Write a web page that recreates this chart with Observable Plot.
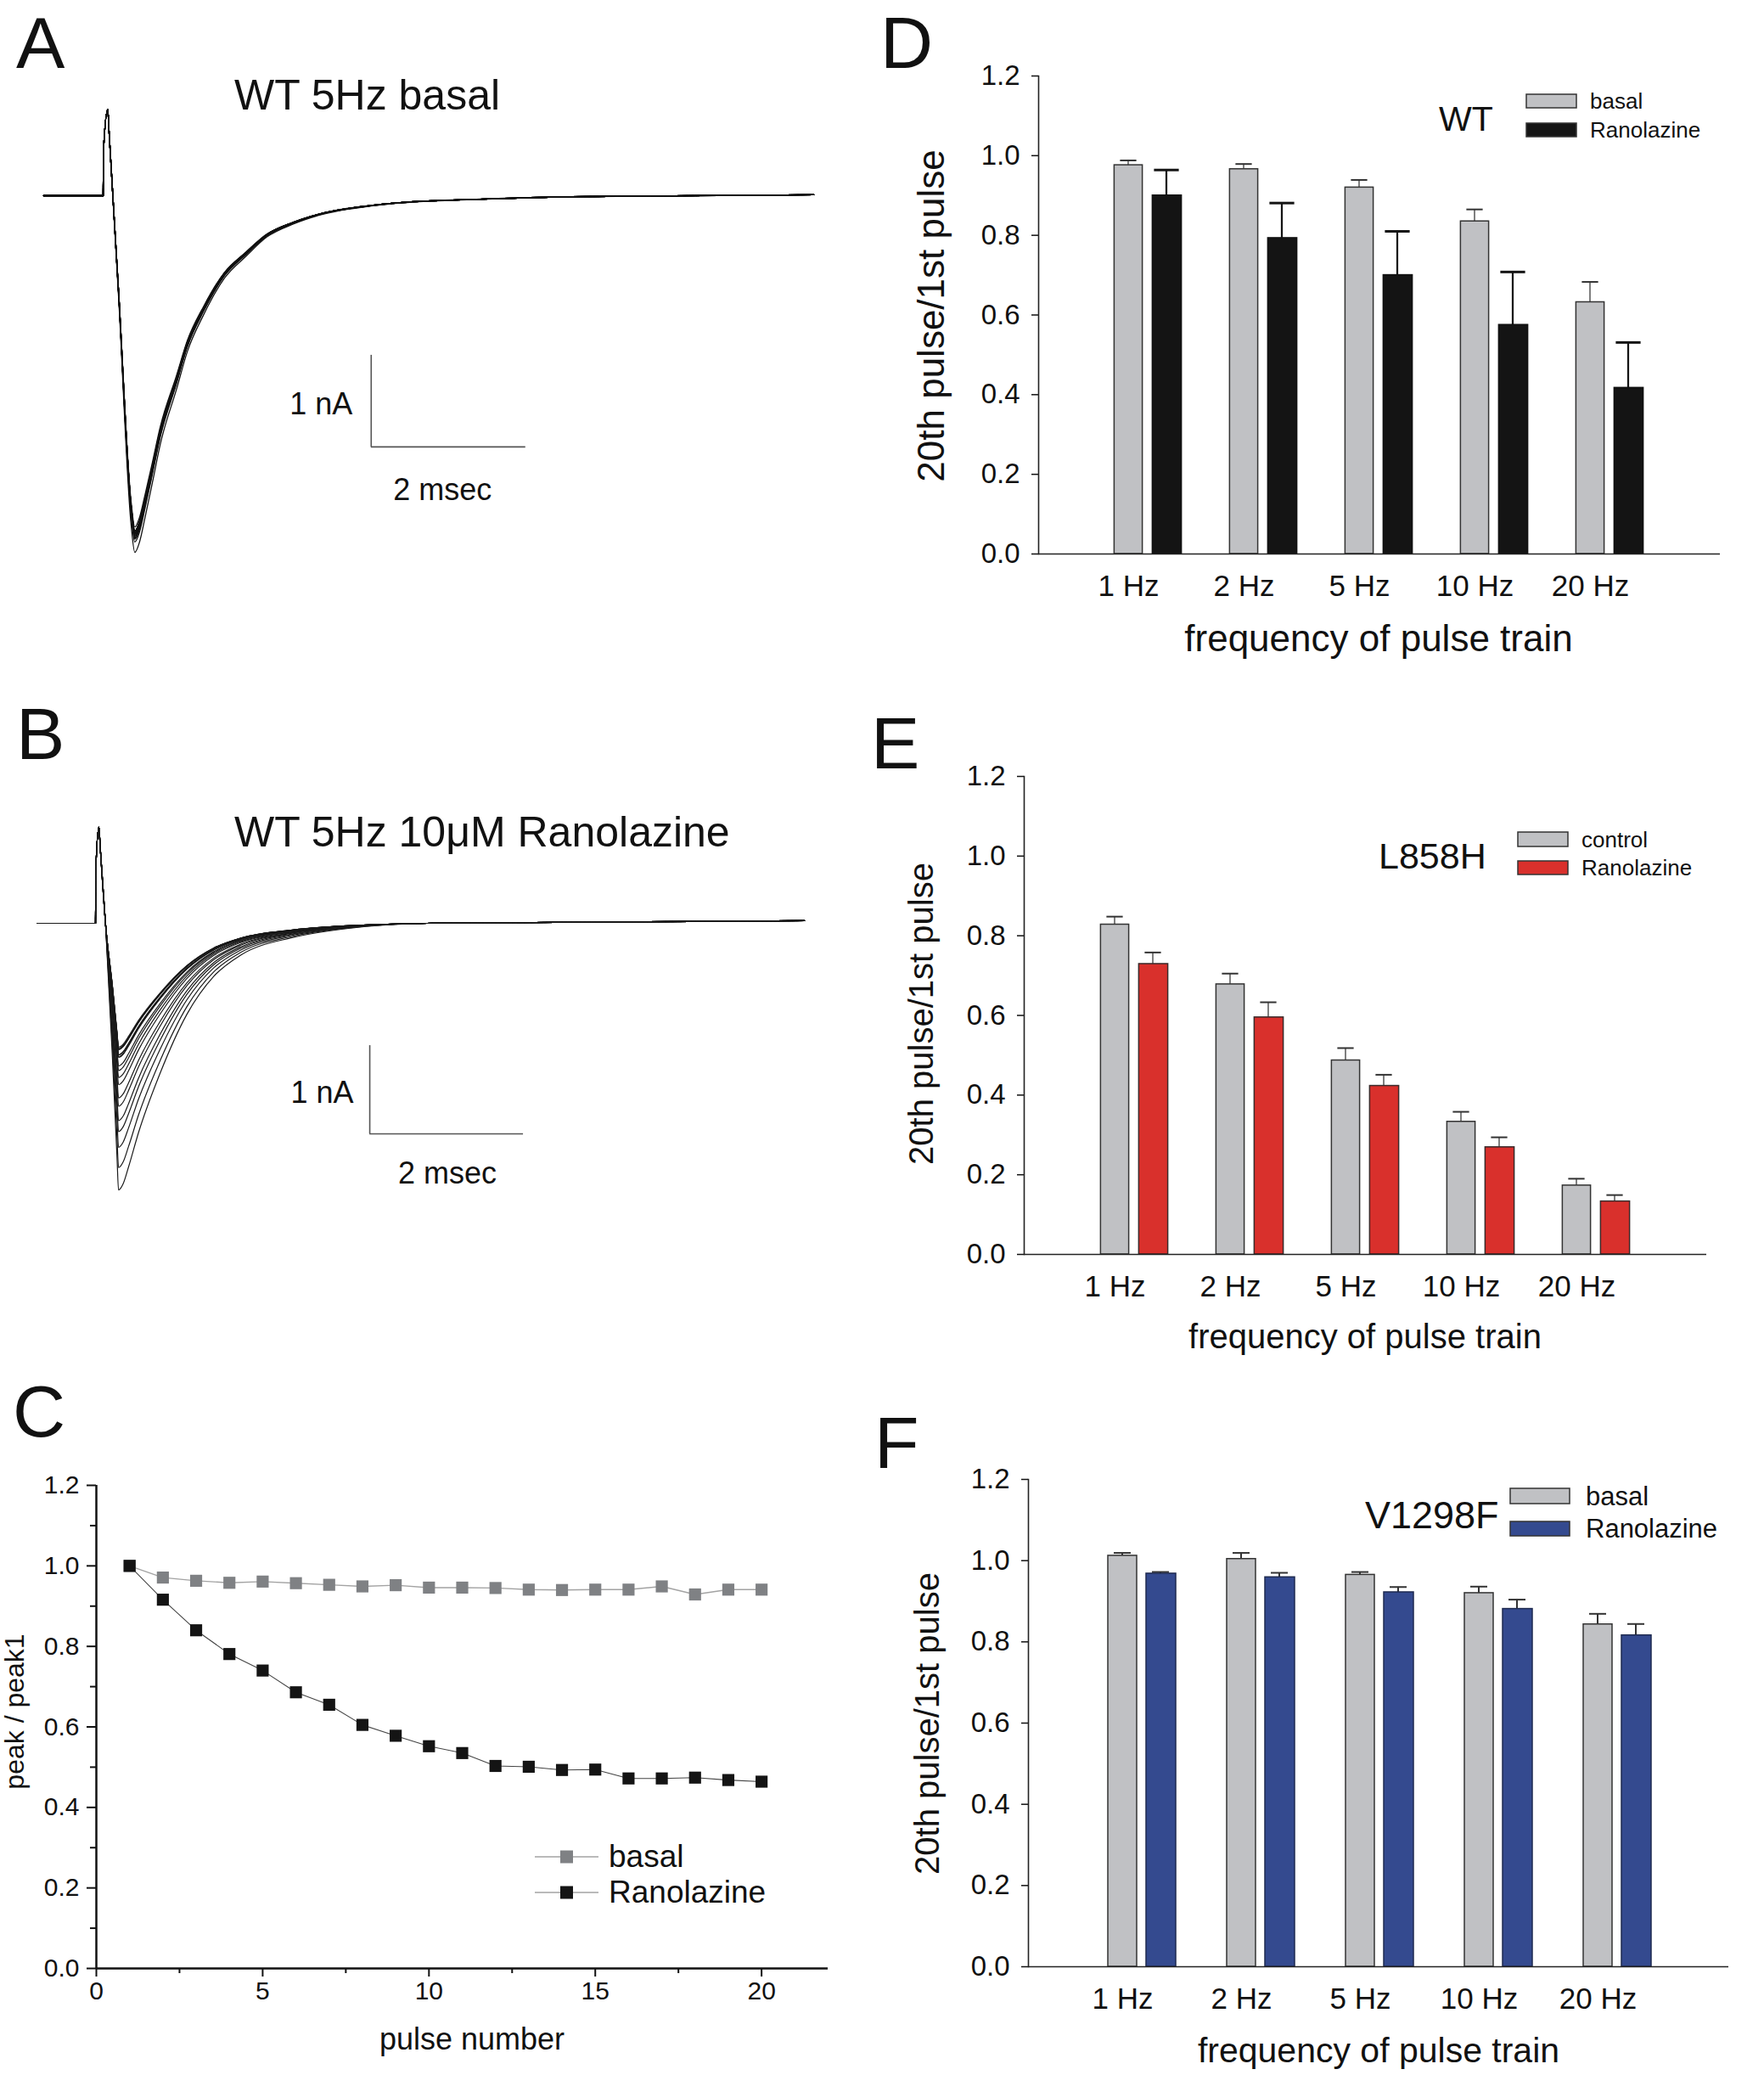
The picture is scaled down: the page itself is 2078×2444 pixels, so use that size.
<!DOCTYPE html>
<html><head><meta charset="utf-8">
<script src="https://cdn.jsdelivr.net/npm/d3@7"></script>
<script src="https://cdn.jsdelivr.net/npm/@observablehq/plot@0.6"></script>
<style>
body{margin:0;background:#fff;}
#fig{position:relative;width:2078px;height:2444px;background:#fff;overflow:hidden;}
#fig > svg{position:absolute;}
</style></head><body><div id="fig"></div>
<script>
const FONT = '"Liberation Sans", Arial, Helvetica, sans-serif';

// ---------- Panel C data (peak / peak1 vs pulse number) ----------
const pulses = [1,2,3,4,5,6,7,8,9,10,11,12,13,14,15,16,17,18,19,20];
const basalRatio = [1.000,0.971,0.963,0.958,0.961,0.957,0.953,0.949,0.952,0.946,0.946,0.945,0.941,0.940,0.941,0.941,0.949,0.929,0.941,0.941];
const ranoRatio  = [1.000,0.916,0.840,0.781,0.740,0.686,0.655,0.605,0.578,0.552,0.535,0.503,0.501,0.493,0.494,0.472,0.472,0.474,0.468,0.464];

// ---------- Panel A trace (first pulse, WT basal), time in ms, current in nA ----------
const traceA_t = [-0.77,0,0.005,0.06,0.075,0.20,0.363,0.41,0.47,0.54,0.64,0.74,0.95,1.09,1.30,1.57,1.85,2.12,2.46,2.81,3.50,3.85,4.88,6.26,9.20];
const traceA_I = [0,0,0.50,0.94,0.72,-1.11,-3.60,-3.89,-3.78,-3.52,-3.12,-2.71,-2.11,-1.70,-1.30,-0.90,-0.66,-0.45,-0.31,-0.21,-0.11,-0.08,-0.04,-0.01,0.01];
// ---------- Panel B trace (first pulse, WT + ranolazine) ----------
const traceB_t = [-0.76,0,0.004,0.045,0.06,0.13,0.22,0.28,0.30,0.36,0.43,0.56,0.84,1.19,1.54,1.89,2.57,3.27,4.32,6.00,9.23];
const traceB_I = [0,0,0.60,1.09,0.88,0,-1.52,-2.65,-3.02,-2.95,-2.76,-2.37,-1.70,-1.03,-0.60,-0.36,-0.16,-0.06,0,0.01,0.03];

// scale bars (1 nA, 2 msec)
const scaleBarA = [{t:3.47, I:-2.74, nA:1, ms:2}];
const scaleBarB = [{t:3.57, I:-2.385, nA:1, ms:2}];

// ---------- Panels D-F data ----------
const freqs = ["1 Hz","2 Hz","5 Hz","10 Hz","20 Hz"];
const wtBasal      = [0.976,0.966,0.920,0.835,0.632];
const wtBasalSem   = [0.012,0.013,0.019,0.030,0.051];
const wtRano       = [0.900,0.793,0.700,0.575,0.417];
const wtRanoSem    = [0.064,0.088,0.110,0.133,0.114];
const l858Control    = [0.828,0.678,0.487,0.333,0.173];
const l858ControlSem = [0.020,0.027,0.031,0.025,0.017];
const l858Rano       = [0.729,0.595,0.423,0.269,0.133];
const l858RanoSem    = [0.029,0.038,0.028,0.025,0.016];
const v1298Basal    = [1.012,1.004,0.965,0.920,0.843];
const v1298BasalSem = [0.007,0.015,0.007,0.016,0.026];
const v1298Rano     = [0.968,0.959,0.922,0.881,0.816];
const v1298RanoSem  = [0.004,0.011,0.013,0.023,0.028];

const fig = document.getElementById("fig");
function place(svg, left, top){ svg.style.left = left+"px"; svg.style.top = top+"px"; fig.appendChild(svg); }

// family of traces: first-pulse shape scaled by each pulse's peak ratio
function family(ts, Is, ratios){
  return ratios.flatMap((r,k)=> ts.map((t,j)=>({pulse:k+1, t, I: Is[j] < 0 ? Is[j]*r : Is[j]})));
}

function tracePanel(cfg){
  return Plot.plot({
    width:1000, height:cfg.height,
    x:{domain:[-1,9.5], range:cfg.xr, axis:null},
    y:{domain:[-4.5,1.5], range:cfg.yr, axis:null},
    style:{fontFamily:FONT, color:"#111", background:"transparent", overflow:"visible"},
    marks:[
      Plot.line(cfg.data, {x:"t", y:"I", z:"pulse", stroke:cfg.stroke, strokeWidth:cfg.sw, curve:"monotone-x"}),
      Plot.ruleX(cfg.bar, {x:"t", y1:"I", y2:d=>d.I+d.nA, stroke:"#555", strokeWidth:1.6}),
      Plot.ruleY(cfg.bar, {y:"I", x1:"t", x2:d=>d.t+d.ms, stroke:"#555", strokeWidth:1.6}),
      Plot.text(cfg.bar, {x:"t", y:d=>d.I+d.nA/2, text:d=>`${d.nA} nA`, textAnchor:"end", dx:cfg.nAdx, dy:4, fontSize:36, fill:"#111"}),
      Plot.text(cfg.bar, {x:d=>d.t+d.ms/2, y:"I", text:d=>`${d.ms} msec`, dx:cfg.msdx, dy:cfg.msdy, fontSize:36, fill:"#111"})
    ]
  });
}

place(tracePanel({height:760, xr:[30,985.5], yr:[716,68], data:family(traceA_t,traceA_I,basalRatio), stroke:"#111", sw:1.3, bar:scaleBarA, nAdx:-22, msdx:-7, msdy:51}), 0, 0);
place(tracePanel({height:800, xr:[21.5,971.75], yr:[755,131], data:family(traceB_t,traceB_I,ranoRatio), stroke:"#1a1a1a", sw:1.2, bar:scaleBarB, nAdx:-19, msdx:1, msdy:47}), 0, 800);

// ---------- Panel C ----------
const cBasal = pulses.map((p,i)=>({p, v:basalRatio[i]}));
const cRano  = pulses.map((p,i)=>({p, v:ranoRatio[i]}));
const yTicks = [0,0.2,0.4,0.6,0.8,1.0,1.2];
const plotC = Plot.plot({
  width:1000, height:744, marginLeft:113, marginRight:25, marginTop:49, marginBottom:126,
  x:{domain:[0,22]}, y:{domain:[0,1.2]},
  style:{fontFamily:FONT, color:"#111", background:"transparent", overflow:"visible"},
  marks:[
    Plot.axisY({ticks:yTicks, tickSize:11, tickPadding:9, tickFormat:d3.format(".1f"), fontSize:30, label:null, strokeWidth:2}),
    Plot.axisY({ticks:[0.1,0.3,0.5,0.7,0.9,1.1], tickSize:7, tickFormat:()=>"", label:null, strokeWidth:2}),
    Plot.axisX({ticks:[0,5,10,15,20], tickSize:10, tickPadding:5, fontSize:30, label:null, strokeWidth:2}),
    Plot.axisX({ticks:[2.5,7.5,12.5,17.5], tickSize:6, tickFormat:()=>"", label:null, strokeWidth:2}),
    Plot.ruleX([0], {stroke:"#111", strokeWidth:2.5}),
    Plot.ruleY([0], {stroke:"#111", strokeWidth:2.5}),
    Plot.line(cBasal, {x:"p", y:"v", stroke:"#a3a3a3", strokeWidth:1.4}),
    Plot.line(cRano, {x:"p", y:"v", stroke:"#444", strokeWidth:1.1}),
    Plot.dot(cBasal, {x:"p", y:"v", symbol:"square", r:8, fill:"#7f8184"}),
    Plot.dot(cRano, {x:"p", y:"v", symbol:"square", r:8, fill:"#141414"})
  ]
});
place(plotC, 0, 1700);

// ---------- Bar panels ----------
function barPanel(cfg){
  const rows = freqs.map((f,i)=>({freq:f, a:cfg.a[i], aSem:cfg.aSem[i], b:cfg.b[i], bSem:cfg.bSem[i]}));
  const h = (cfg.xr[1]-cfg.xr[0])/freqs.length/2;
  return Plot.plot({
    width:1048, height:cfg.height, marginLeft:cfg.mL, marginRight:cfg.mR, marginTop:cfg.mT, marginBottom:cfg.mB,
    x:{type:"band", domain:freqs, range:cfg.xr, padding:0},
    y:{domain:[0,1.2]},
    style:{fontFamily:FONT, color:"#111", background:"transparent", overflow:"visible"},
    marks:[
      Plot.axisY({ticks:yTicks, tickSize:8, tickPadding:14, tickFormat:d3.format(".1f"), fontSize:33, label:null, strokeWidth:1.5}),
      Plot.axisX({tickSize:0, tickPadding:25, fontSize:35, dx:-23, label:null}),
      // error stems
      Plot.barY(rows, {x:"freq", y1:"a", y2:d=>d.a+d.aSem, fill:"#333", insetLeft:h-24, insetRight:h+22}),
      Plot.barY(rows, {x:"freq", y1:"b", y2:d=>d.b+d.bSem, fill:cfg.errB, insetLeft:h+22-cfg.stemB/2, insetRight:h-22-cfg.stemB/2}),
      // caps
      Plot.tickY(rows, {x:"freq", y:d=>d.a+d.aSem, stroke:"#333", strokeWidth:2, insetLeft:h-33, insetRight:h+13}),
      Plot.tickY(rows, {x:"freq", y:d=>d.b+d.bSem, stroke:cfg.errB, strokeWidth:cfg.capW, insetLeft:h+22-cfg.capB/2, insetRight:h-22-cfg.capB/2}),
      // bars
      Plot.barY(rows, {x:"freq", y:"a", fill:"#c0c1c4", stroke:"#333", strokeWidth:1.5, insetLeft:h-40, insetRight:h+6}),
      Plot.barY(rows, {x:"freq", y:"b", fill:cfg.colorB, stroke:cfg.strokeB, strokeWidth:1.5, insetLeft:h+5, insetRight:h-40}),
      Plot.ruleY([0], {stroke:"#222", strokeWidth:1.6}),
      Plot.frame({anchor:"left", stroke:"#222", strokeWidth:1.6})
    ]
  });
}

place(barPanel({height:790, mL:193, mR:52, mT:89, mB:138, xr:[252.6,936.4],
  a:wtBasal, aSem:wtBasalSem, b:wtRano, bSem:wtRanoSem, colorB:"#141414", strokeB:"#111", errB:"#141414", stemB:3, capB:30, capW:3}), 1030, 0);
place(barPanel({height:800, mL:176, mR:68, mT:94, mB:143, xr:[236.6,920.4],
  a:l858Control, aSem:l858ControlSem, b:l858Rano, bSem:l858RanoSem, colorB:"#d9302c", strokeB:"#3a2a2a", errB:"#333", stemB:2, capB:20, capW:2}), 1030, 820);
place(barPanel({height:794, mL:181, mR:42, mT:92, mB:128, xr:[245,945],
  a:v1298Basal, aSem:v1298BasalSem, b:v1298Rano, bSem:v1298RanoSem, colorB:"#344a8f", strokeB:"#1e2a50", errB:"#333", stemB:2, capB:20, capW:2}), 1030, 1650);

// ---------- Overlay: panel letters, titles, axis titles, legends ----------
const W = 2078, H = 2444;
const ov = d3.create("svg").attr("width",W).attr("height",H).attr("viewBox",`0 0 ${W} ${H}`)
  .style("left","0px").style("top","0px").style("pointer-events","none")
  .attr("font-family", FONT).attr("fill","#111");
const texts = [
  {t:"A", x:19, y:80, s:86}, {t:"B", x:19, y:894, s:86}, {t:"C", x:15, y:1692, s:86},
  {t:"D", x:1037, y:80, s:86}, {t:"E", x:1026, y:905, s:86}, {t:"F", x:1030, y:1729, s:86},
  {t:"WT 5Hz basal", x:276, y:129, s:50},
  {t:"WT 5Hz 10\u03BCM Ranolazine", x:276, y:997, s:50},
  {t:"pulse number", x:556, y:2414, s:36, a:"middle"},
  {t:"peak / peak1", x:28, y:2016, s:32, a:"middle", r:true},
  {t:"frequency of pulse train", x:1624, y:767, s:44, a:"middle"},
  {t:"frequency of pulse train", x:1608, y:1588, s:40, a:"middle"},
  {t:"frequency of pulse train", x:1624, y:2429, s:41, a:"middle"},
  {t:"20th pulse/1st pulse", x:1112, y:372, s:44, a:"middle", r:true},
  {t:"20th pulse/1st pulse", x:1099, y:1194, s:40, a:"middle", r:true},
  {t:"20th pulse/1st pulse", x:1106, y:2030, s:40, a:"middle", r:true},
  {t:"WT", x:1695, y:154, s:41},
  {t:"basal", x:1873, y:128, s:26}, {t:"Ranolazine", x:1873, y:162, s:26},
  {t:"L858H", x:1624, y:1023, s:43},
  {t:"control", x:1863, y:998, s:26}, {t:"Ranolazine", x:1863, y:1031, s:26},
  {t:"V1298F", x:1608, y:1800, s:45},
  {t:"basal", x:1868, y:1773, s:31}, {t:"Ranolazine", x:1868, y:1811, s:31},
  {t:"basal", x:717, y:2199, s:37}, {t:"Ranolazine", x:717, y:2241, s:37}
];
for (const d of texts){
  const el = ov.append("text").text(d.t).attr("font-size", d.s).attr("text-anchor", d.a||"start");
  if (d.r) el.attr("transform", `translate(${d.x},${d.y}) rotate(-90)`);
  else el.attr("x", d.x).attr("y", d.y);
}
const swatches = [
  {x:1798, y:111, w:59, h:16, f:"#c0c1c4"}, {x:1798, y:145, w:59, h:16, f:"#141414"},
  {x:1788, y:980, w:59, h:17, f:"#c0c1c4"}, {x:1788, y:1014, w:59, h:16, f:"#d9302c"},
  {x:1779, y:1753, w:70, h:18, f:"#c0c1c4"}, {x:1779, y:1792, w:70, h:17, f:"#344a8f"}
];
for (const s of swatches) ov.append("rect").attr("x",s.x).attr("y",s.y).attr("width",s.w).attr("height",s.h).attr("fill",s.f).attr("stroke","#333").attr("stroke-width",1.5);
const cLeg = [{y:2187, f:"#7f8184"}, {y:2229, f:"#141414"}];
for (const l of cLeg){
  ov.append("line").attr("x1",630).attr("x2",705).attr("y1",l.y).attr("y2",l.y).attr("stroke","#a3a3a3").attr("stroke-width",1.5);
  ov.append("rect").attr("x",660).attr("y",l.y-7.5).attr("width",15).attr("height",15).attr("fill",l.f);
}
fig.appendChild(ov.node());
</script></body></html>
